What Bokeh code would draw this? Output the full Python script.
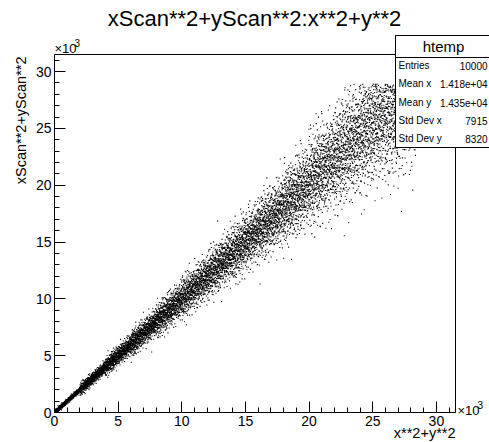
import math
from bokeh.plotting import figure
from bokeh.models import (Range1d, SingleIntervalTicker, FixedTicker, Label, BoxAnnotation,
                          ColumnDataSource, LinearAxis)
from bokeh.embed import file_html
from bokeh.resources import INLINE

# ---- data (units of 10^3) ------------------------------------------------
# the 10000-point cloud is summarised per x slice: slice bounds, number of
# entries, centre of the band and its spread, and the top cut-off of y
bin_lo = [0, 2, 4, 6, 8, 10, 12, 14, 16, 18, 20, 22, 24, 26, 28]
bin_hi = [2, 4, 6, 8, 10, 12, 14, 16, 18, 20, 22, 24, 26, 28, 28.4]
bin_count = [704, 704, 704, 704, 704, 704, 704, 704, 704, 704, 704, 704, 704, 704, 144]
band_center = [1.0, 3.0, 5.0, 7.0, 9.0, 11.0, 13.0, 15.0, 17.0, 19.1, 21.3, 23.4, 25.4, 27.2, 28.2]
band_sd = [0.1, 0.25, 0.4, 0.55, 0.7, 0.85, 1.0, 1.15, 1.35, 1.6, 1.9, 2.2, 2.5, 2.8, 3.0]
y_cap = 28.9
axis_max = 31.5

stat_names = ["Entries", "Mean x", "Mean y", "Std Dev x", "Std Dev y"]
stat_values = ["10000", "1.418e+04", "1.435e+04", "7915", "8320"]
hist_name = "htemp"
title_text = "xScan**2+yScan**2:x**2+y**2"
x_title = "x**2+y**2"
y_title = "xScan**2+yScan**2"


def halton(i, b):
    f, r = 1.0, 0.0
    while i > 0:
        f /= b
        r += f * (i % b)
        i //= b
    return r


# deterministic (low-discrepancy) layout of each slice's entries
xs, ys = [], []
k = 0
for lo, hi, n, c, s in zip(bin_lo, bin_hi, bin_count, band_center, band_sd):
    mid = 0.5 * (lo + hi)
    for _ in range(n):
        k += 1
        u1, u2, u3 = halton(k, 2), halton(k, 3), halton(k, 5)
        xv = lo + (hi - lo) * u1
        z = math.sqrt(-2.0 * math.log(max(u2, 1e-9))) * math.cos(2 * math.pi * u3)
        yv = xv * c / mid + s * z
        if 0.0 <= yv <= y_cap:
            xs.append(xv)
            ys.append(yv)

src = ColumnDataSource(dict(x=xs, y=ys))

FONT = "Liberation Sans"
W, H = 489, 442
# pixel geometry of the plotting box (ROOT frame)
FL, FR, FT, FB = 54.0, 455.0, 54.0, 412.0
sx = (FR - FL) / axis_max
sy = (FB - FT) / axis_max
x_range = Range1d(-FL / sx, axis_max + (W - FR) / sx)
y_range = Range1d(-(H - FB) / sy, axis_max + FT / sy)

p = figure(width=W, height=H, output_backend="svg", toolbar_location=None,
           x_range=x_range, y_range=y_range,
           x_axis_location=None, y_axis_location=None,
           min_border=0, min_border_left=0, min_border_right=0,
           min_border_top=0, min_border_bottom=0)
p.background_fill_color = "white"
p.border_fill_color = "white"
p.outline_line_color = None
p.grid.visible = False

p.scatter("x", "y", source=src, marker="square", size=1.1,
          fill_color="black", line_color=None)


def style(ax, labels=True):
    ax.bounds = (0, axis_max)
    ax.axis_line_color = "black"
    ax.axis_line_width = 1
    ax.major_tick_line_color = "black"
    ax.minor_tick_line_color = "black"
    ax.major_tick_out = 0
    ax.minor_tick_out = 0
    if labels:
        ax.ticker = SingleIntervalTicker(interval=5, num_minor_ticks=5)
        ax.major_tick_in = 11
        ax.minor_tick_in = 5
        ax.major_label_text_font = FONT
        ax.major_label_text_font_size = "14px"
        ax.major_label_text_color = "black"
        ax.major_label_standoff = 3
    else:
        ax.ticker = FixedTicker(ticks=[])
        ax.major_tick_in = 0
        ax.minor_tick_in = 0
        ax.major_label_text_font_size = "0px"


xa = LinearAxis(fixed_location=0)
ya = LinearAxis(fixed_location=0)
xt = LinearAxis(fixed_location=axis_max)
yr = LinearAxis(fixed_location=axis_max)
style(xa)
style(ya)
style(xt, labels=False)
style(yr, labels=False)
p.add_layout(xa, "below")
p.add_layout(ya, "left")
p.add_layout(xt, "above")
p.add_layout(yr, "right")


def lab(text, cx, cy, size, align="left", baseline="middle", angle=0.0):
    p.add_layout(Label(x=cx, y=H - cy, x_units="screen", y_units="screen",
                       text=text, text_font=FONT, text_font_size=size,
                       text_align=align, text_baseline=baseline, angle=angle,
                       text_color="black"))


lab(title_text, 254, 18, "22px", align="center")
lab(y_title, 20, 56, "14.5px", align="right", angle=math.pi / 2)
lab(x_title, 455, 432, "14.5px", align="right")
# axis multipliers "x10^3"
lab("\u00d710", 54, 48, "13px")
lab("3", 74, 42, "10px")
lab("\u00d710", 457, 410, "13px")
lab("3", 477, 404, "10px")

# stats box
p.add_layout(BoxAnnotation(left=395, right=492, bottom=H - 147, top=H - 35,
                           left_units="screen", right_units="screen",
                           bottom_units="screen", top_units="screen",
                           fill_color="white", fill_alpha=1.0,
                           line_color="black", line_width=1, line_alpha=1.0))
p.add_layout(BoxAnnotation(left=395, right=492, bottom=H - 57, top=H - 35,
                           left_units="screen", right_units="screen",
                           bottom_units="screen", top_units="screen",
                           fill_color="white", fill_alpha=1.0,
                           line_color="black", line_width=1, line_alpha=1.0))
lab(hist_name, 443, 46, "15px", align="center")
row_y = [65, 83, 102, 120, 138]
for name, val, ry in zip(stat_names, stat_values, row_y):
    lab(name, 398, ry, "10px")
    lab(val, 487, ry, "10px", align="right")

open("out.html", "w").write(file_html(p, INLINE))
